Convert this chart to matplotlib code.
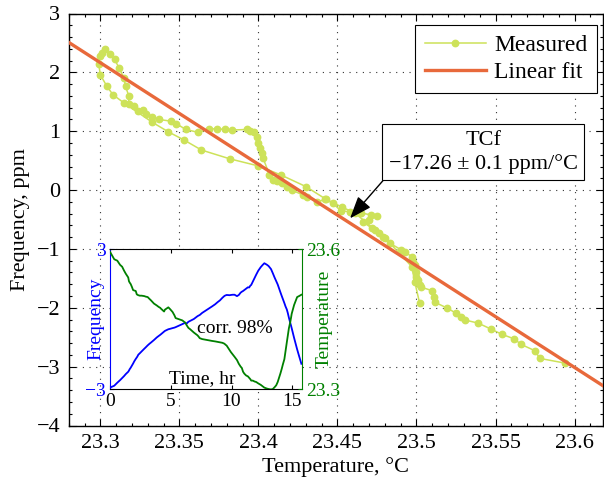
import matplotlib
matplotlib.use("Agg")
import matplotlib.pyplot as plt
from matplotlib.ticker import MultipleLocator
import numpy as np

plt.rcParams['font.family'] = ['Liberation Serif', 'DejaVu Serif']
plt.rcParams['axes.unicode_minus'] = True

# ---- data ----
time_hr = [0.0, 0.35, 0.6, 0.83, 1.0, 1.15, 1.3, 1.5, 1.56, 1.62,
           1.7, 1.8, 1.9, 2.0, 2.12, 2.2, 2.25, 2.33, 2.45, 2.6,
           2.83, 2.93, 3.1, 3.25, 3.37, 3.62, 3.85, 4.0, 4.13, 4.2,
           4.45, 4.52, 4.8, 4.95, 5.15, 5.3, 5.4, 5.95, 6.2, 6.3,
           6.45, 6.6, 6.9, 7.05, 7.2, 7.3, 7.38, 7.58, 8.4, 8.65,
           8.85, 9.05, 9.25, 9.42, 9.5, 9.6, 9.85, 9.95, 10.1, 10.25,
           10.45, 10.6, 10.75, 10.85, 10.95, 11.05, 11.2, 11.35, 11.45, 11.55,
           11.62, 11.75, 11.9, 12.03, 12.2, 12.4, 12.55, 12.7, 12.9, 13.05,
           13.25, 13.4, 13.55, 13.68, 13.8, 14.02, 14.13, 14.23, 14.35, 14.45,
           14.55, 14.63, 14.72, 14.83, 14.9, 14.95, 15.15, 15.4, 15.55, 15.75]

temperature = [23.594, 23.578, 23.575, 23.566, 23.562, 23.554, 23.547, 23.539, 23.531, 23.528,
               23.525, 23.519, 23.512, 23.511, 23.510, 23.503, 23.502, 23.501, 23.500, 23.500,
               23.499, 23.498, 23.497, 23.493, 23.490, 23.483, 23.479, 23.476, 23.474, 23.472,
               23.466, 23.470, 23.475, 23.471, 23.465, 23.458, 23.452, 23.447, 23.442, 23.437,
               23.431, 23.428, 23.421, 23.418, 23.415, 23.412, 23.409, 23.407, 23.403, 23.402,
               23.401, 23.400, 23.399, 23.397, 23.395, 23.393, 23.383, 23.379, 23.374, 23.369,
               23.362, 23.354, 23.348, 23.345, 23.337, 23.333, 23.329, 23.327, 23.324, 23.321,
               23.318, 23.318, 23.316, 23.315, 23.312, 23.309, 23.306, 23.303, 23.301, 23.300,
               23.299, 23.300, 23.304, 23.308, 23.315, 23.333, 23.343, 23.353, 23.364, 23.382,
               23.400, 23.414, 23.430, 23.443, 23.453, 23.461, 23.480, 23.497, 23.499, 23.502]

frequency = [-2.94, -2.86, -2.73, -2.62, -2.53, -2.45, -2.36, -2.26, -2.21, -2.15,
             -2.09, -2.00, -1.91, -1.81, -1.71, -1.65, -1.61, -1.53, -1.47, -1.39,
             -1.27, -1.22, -1.13, -1.06, -1.01, -0.90, -0.79, -0.73, -0.68, -0.65,
             -0.54, -0.51, -0.44, -0.42, -0.39, -0.37, -0.35, -0.22, -0.16, -0.20,
             -0.12, -0.08, 0.00, 0.06, 0.12, 0.15, 0.17, 0.26, 0.54, 0.63,
             0.72, 0.80, 0.91, 0.99, 1.01, 1.03, 1.02, 1.03, 1.04, 1.04,
             0.98, 1.03, 1.13, 1.17, 1.20, 1.24, 1.30, 1.36, 1.35, 1.43,
             1.46, 1.60, 1.76, 1.90, 2.07, 2.22, 2.31, 2.39, 2.33, 2.27,
             2.14, 1.96, 1.77, 1.62, 1.48, 1.15, 0.99, 0.85, 0.68, 0.53,
             0.41, 0.26, 0.06, -0.16, -0.29, -0.39, -0.81, -1.30, -1.57, -1.92]

fit_slope = -17.26          # ppm/°C
fit_zero_temp = 23.4254     # °C where fit crosses 0 ppm

x_ticks = [23.3, 23.35, 23.4, 23.45, 23.5, 23.55, 23.6]
x_tick_labels = ['23.3', '23.35', '23.4', '23.45', '23.5', '23.55', '23.6']
y_ticks = [-4, -3, -2, -1, 0, 1, 2, 3]
inset_x_ticks = [0, 5, 10, 15]

c_meas = '#cde259'
c_fit = '#e8693b'
c_blue = '#0000ff'
c_green = '#008000'

W, H = 604, 482
fig = plt.figure(figsize=(W / 100, H / 100), dpi=100)
ax = fig.add_axes([68.7 / W, 1 - 425.5 / H, (603 - 68.7) / W, (425.5 - 13.5) / H])

xlim = (23.28, 23.618)
ax.set_xlim(*xlim)
ax.set_ylim(-4, 3)

ax.plot(temperature, frequency, '-o', color=c_meas, lw=1.1, ms=4.6,
        mec=c_meas, mfc=c_meas, zorder=3, label='Measured')
fx = np.array(xlim)
ax.plot(fx, fit_slope * (fx - fit_zero_temp), '-', color=c_fit, lw=2.4,
        zorder=4, label='Linear fit')

ax.set_xticks(x_ticks)
ax.set_xticklabels(x_tick_labels)
ax.set_yticks(y_ticks)
ax.set_yticklabels([('\u2212' + str(-v)) if v < 0 else str(v) for v in y_ticks])
ax.xaxis.set_minor_locator(MultipleLocator(0.01))
ax.yaxis.set_minor_locator(MultipleLocator(0.2))
ax.tick_params(which='both', direction='in', top=True, right=True, labelsize=16, width=0.8)
ax.tick_params(which='major', length=5, pad=6)
ax.tick_params(which='minor', length=2.5)
ax.grid(True, which='major', linestyle=(0, (1, 5)), color='#333333', lw=0.8)
for s in ax.spines.values():
    s.set_linewidth(1.0)
ax.set_xlabel('Temperature, °C', fontsize=16, labelpad=3)
ax.set_ylabel('Frequency, ppm', fontsize=16, labelpad=5)

leg = ax.legend(loc='upper right', bbox_to_anchor=(597 / W, 1 - 25 / H),
                bbox_transform=fig.transFigure, borderaxespad=0, fontsize=17,
                fancybox=False, edgecolor='k', framealpha=1, handlelength=2.6,
                handletextpad=0.35, labelspacing=0.25, borderpad=0.4)
leg.get_frame().set_linewidth(0.8)

ax.annotate('TCf\n\u221217.26 \u00b1 0.1 ppm/°C',
            xy=(23.458, -0.48), xytext=(23.5422, 0.64), textcoords='data',
            ha='center', va='center', fontsize=16, multialignment='center',
            linespacing=1.3,
            bbox=dict(boxstyle='square,pad=0.28', fc='white', ec='k', lw=0.8),
            arrowprops=dict(arrowstyle='-|>,head_length=0.85,head_width=0.32',
                            color='k', lw=1.0, relpos=(0, 0), shrinkA=0, shrinkB=0),
            zorder=6)

# ---- inset ----
axi = fig.add_axes([110 / W, 1 - 389 / H, 192 / W, 140 / H], zorder=5)
axi.set_facecolor('white')
axi.plot(time_hr, frequency, color=c_blue, lw=1.3)
axi.set_xlim(0, 15.8)
axi.set_ylim(-3, 3)
axi.set_xticks(inset_x_ticks)
axi.set_xticklabels([str(v) for v in inset_x_ticks])
axi.set_yticks([-3, 3])
axi.set_yticklabels(['\u22123', '3'])
axi.tick_params(axis='x', direction='in', top=True, length=3, labelsize=14, pad=3)
axi.tick_params(axis='y', direction='in', length=3, labelsize=14, colors=c_blue, pad=3)
axi.spines['left'].set_color(c_blue)
axi.spines['right'].set_visible(False)
axi.set_ylabel('Frequency', color=c_blue, fontsize=14)
axi.yaxis.set_label_coords(-0.03, 0.5)
axi.text(7.6, -2.55, 'Time, hr', ha='center', va='center', fontsize=14)
axi.text(10.25, -0.42, 'corr. 98%', ha='center', va='center', fontsize=14)

axr = axi.twinx()
axr.set_zorder(6)
axr.patch.set_visible(False)
axr.plot(time_hr, temperature, color=c_green, lw=1.3)
axr.set_ylim(23.3, 23.6)
axr.set_yticks([23.3, 23.6])
axr.set_yticklabels(['23.3', '23.6'])
axr.tick_params(axis='y', direction='in', length=3, labelsize=14, colors=c_green, pad=3)
axr.spines['right'].set_color(c_green)
for side in ('left', 'top', 'bottom'):
    axr.spines[side].set_visible(False)
axr.set_ylabel('Temperature', color=c_green, fontsize=14)
axr.yaxis.set_label_coords(1.07, 0.5)

fig.savefig('out.png', dpi=100)
